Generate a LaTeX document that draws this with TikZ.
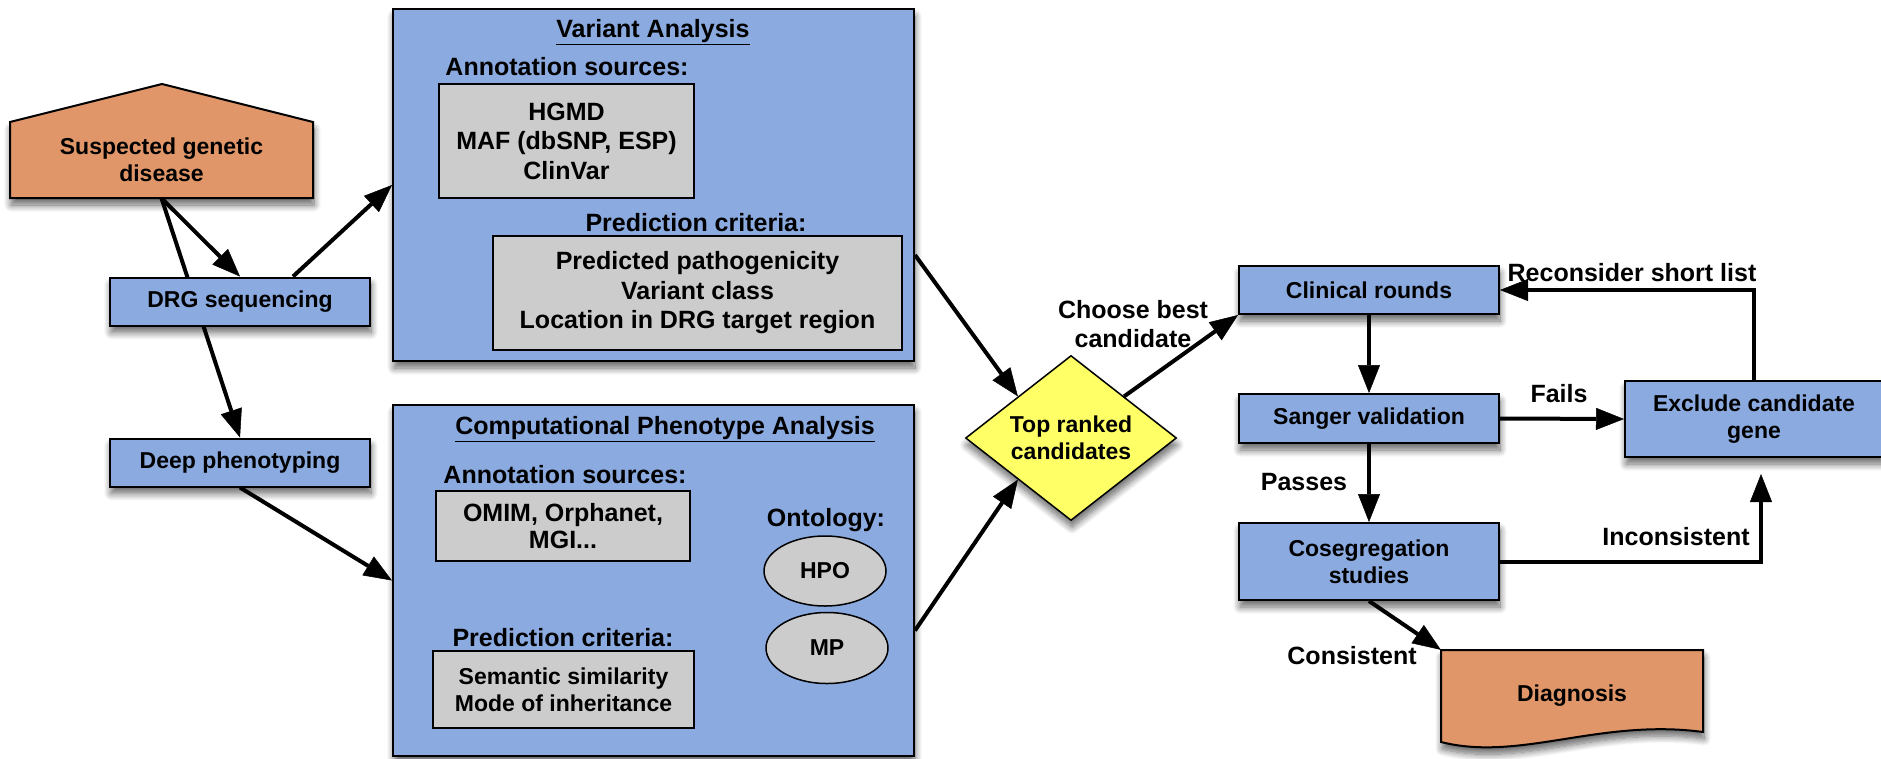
\documentclass[tikz,border=0pt]{standalone}
\usepackage{fontspec}
\setmainfont{Liberation Sans}
\usetikzlibrary{shapes.geometric,arrows.meta,shadows.blur,calc}
\definecolor{boxblue}{RGB}{139,170,224}
\definecolor{boxorange}{RGB}{224,150,104}
\definecolor{boxgray}{RGB}{204,204,204}
\definecolor{boxyellow}{RGB}{255,255,102}
\tikzset{
  shad/.style={blur shadow={shadow xshift=1pt, shadow yshift=-7pt, shadow blur radius=7pt, shadow blur steps=10, shadow opacity=60}},
  txtA/.style={font=\bfseries\fontsize{23}{27}\selectfont},
  txtB/.style={font=\bfseries\fontsize{25}{29.5}\selectfont},
  bluebox/.style={draw=black, line width=2pt, fill=boxblue, shad, inner sep=0pt, align=center, txtA},
  bigbox/.style={draw=black, line width=2pt, fill=boxblue, shad, inner sep=0pt},
  graybox/.style={draw=black, line width=2pt, fill=boxgray, inner sep=0pt, align=center, txtB},
  ovalbox/.style={ellipse, draw=black, line width=1.5pt, fill=boxgray, inner sep=0pt, txtA},
  plain/.style={inner sep=0pt, align=center, txtB},
  orangeshape/.style={draw=black, line width=2pt, fill=boxorange, shad},
  arr/.style={line width=4pt, -{Triangle[length=28pt,width=22pt,fill=black,line width=0.5pt]}}
}
\begin{document}
\begin{tikzpicture}[x=1pt,y=-1pt]
\useasboundingbox (0,0) rectangle (1881,758);

% Suspected genetic disease (pentagon)
\path[orangeshape] (10,198) -- (10,122) -- (162,84) -- (313,122) -- (313,198) -- cycle;
\node[inner sep=0pt, minimum width=303pt, minimum height=76pt, align=center, txtA] (sus) at (161.5,160) {Suspected genetic\\disease};

% Left column
\node[bluebox, minimum width=260pt, minimum height=48pt] (deep) at (240,462.5) {Deep phenotyping};
\draw[arr] (sus.south) -- (deep.north);
\node[bluebox, minimum width=260pt, minimum height=48pt] (drg) at (240,301.5) {DRG sequencing};

% Variant Analysis
\node[bigbox, minimum width=521pt, minimum height=352pt] (var) at (653.5,185) {};
\node[plain] (vtitle) at (653,32) {\underline{Variant Analysis}};
\node[plain] (vann) at (567,67) {Annotation sources:};
\node[graybox, minimum width=255pt, minimum height=114pt] (vsrc) at (566.5,141) {HGMD\\MAF (dbSNP, ESP)\\ClinVar};
\node[plain] (vpred) at (696,223) {Prediction criteria:};
\node[graybox, minimum width=409pt, minimum height=114pt] (vcrit) at (697.5,293) {Predicted pathogenicity\\Variant class\\Location in DRG target region};

% Computational Phenotype Analysis
\node[bigbox, minimum width=521pt, minimum height=351pt] (comp) at (653.5,580.5) {};
\node[plain] (ctitle) at (665,429) {\underline{Computational Phenotype Analysis}};
\node[plain] (cann) at (565,475) {Annotation sources:};
\node[graybox, minimum width=254pt, minimum height=70pt, font=\bfseries\fontsize{25}{27}\selectfont] (csrc) at (563,526) {OMIM, Orphanet,\\MGI...};
\node[plain] (conto) at (826,520) {Ontology:};
\node[ovalbox, minimum width=122pt, minimum height=70pt] (hpo) at (825,571) {HPO};
\node[ovalbox, minimum width=122pt, minimum height=71pt] (mp) at (827,648) {MP};
\node[plain] (cpred) at (563,638) {Prediction criteria:};
\node[graybox, minimum width=261pt, minimum height=77pt, txtA] (ccrit) at (563.5,689.5) {Semantic similarity\\Mode of inheritance};

% Diamond
\node[diamond, aspect=1.28, draw=black, line width=1.5pt, fill=boxyellow, shad, minimum width=211pt, minimum height=165pt, inner sep=0pt, align=center, txtA] (diam) at (1071,438) {Top ranked\\candidates};

% Right column
\node[bluebox, minimum width=260pt, minimum height=48pt] (clin) at (1369,290) {Clinical rounds};
\node[bluebox, minimum width=260pt, minimum height=49pt] (sang) at (1369,418.5) {Sanger validation};
\node[bluebox, minimum width=260pt, minimum height=77pt] (coseg) at (1369,561.5) {Cosegregation\\studies};
\node[bluebox, minimum width=258pt, minimum height=76pt] (excl) at (1754,419) {Exclude candidate\\gene};

% Diagnosis (document shape)
\path[orangeshape] (1441,742) -- (1441,650) -- (1703,650) -- (1703,732)
  .. controls (1600,718) and (1520,762) .. (1441,742) -- cycle;
\node[inner sep=0pt, minimum width=262pt, minimum height=92pt, txtA] (diag) at (1572,696) {Diagnosis};

% Connectors
\draw[arr] (sus.south) -- (drg.north);
\draw[arr] ([xshift=53pt]drg.north) -- (var.west);
\draw[arr] (deep.south) -- (comp.west);
\draw[arr] ([yshift=-70pt]var.east) -- (diam.north west);
\draw[arr] ([yshift=-50pt]comp.east) -- (diam.south west);
\draw[arr] (diam.north east) -- (clin.south west);
\draw[arr] (clin.south) -- (sang.north);
\draw[arr] (sang.south) -- (coseg.north);
\draw[arr] (sang.east) -- (excl.west);
\draw[arr] (excl.north) |- (clin.east);
\draw[arr] (coseg.east) -| ([xshift=7pt,yshift=-16pt]excl.south);
\draw[arr] (coseg.south) -- (diag.north west);

% Labels
\node[plain] (lchoose) at (1133,324) {Choose best\\candidate};
\node[plain] (lpass) at (1304,482) {Passes};
\node[plain] (lfail) at (1559,394) {Fails};
\node[plain] (lrec) at (1632,273) {Reconsider short list};
\node[plain] (linc) at (1676,537) {Inconsistent};
\node[plain] (lcons) at (1352,656) {Consistent};
\end{tikzpicture}
\end{document}
